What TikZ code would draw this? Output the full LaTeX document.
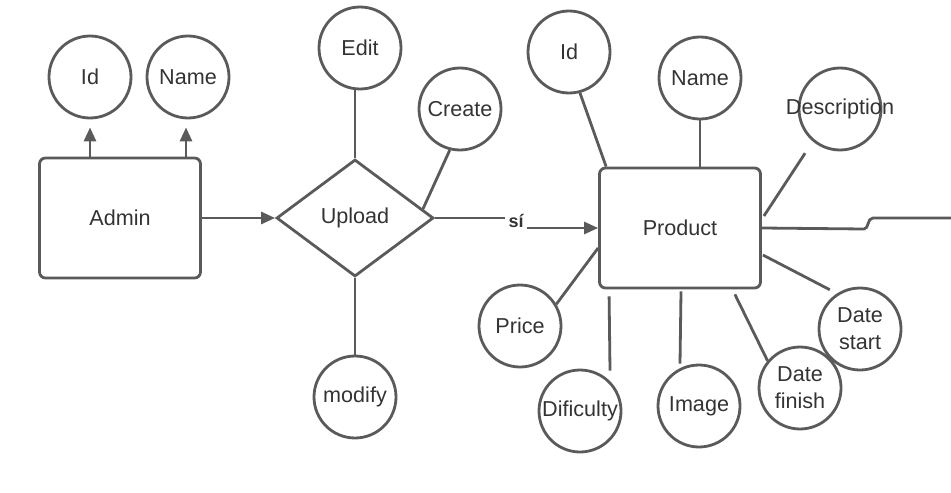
\documentclass[tikz,border=0pt]{standalone}
\usepackage{fontspec}
\setmainfont{Liberation Sans}
\usetikzlibrary{shapes.geometric, arrows.meta, calc}
\usetikzlibrary{positioning}
\definecolor{edge}{HTML}{5A5A5A}
\definecolor{ink}{HTML}{333333}

\begin{document}
\begin{tikzpicture}[x=0.5pt, y=-0.5pt, line width=1.4pt, color=edge,
    every node/.style={text=ink, font=\fontsize{10.8}{13.5}\selectfont},
    attr/.style={circle, draw=edge, minimum size=41pt, inner sep=0pt, align=center},
    entity/.style={rectangle, rounded corners=3pt, draw=edge, minimum width=80.5pt, minimum height=60pt},
    rel/.style={diamond, draw=edge, minimum width=78.5pt, minimum height=58.5pt, inner sep=0pt},
    tip/.style={-{Triangle[length=7pt, width=6pt]}}]
    \useasboundingbox (0,0) rectangle (951,492);
    % admin side
    \node[entity] at (120,218) (admin) {Admin};
    \node[attr] at (90,77) (aid) {Id};
    \node[attr] at (188,77) (aname) {Name};
    \draw[tip, shorten >=4pt] (aid.south |- admin.north) -- (aid.south);
    \draw[tip, shorten >=4pt] ($(aname.south |- admin.north)+(-2,0)$) -- ($(aname.south)+(-2,0)$);
    \node[rel] at (355,218) (upload) {Upload};
    \draw[tip] (admin.east) -- (upload.west);
    \node[attr] at (360,48) (edit) {Edit};
    \node[attr] at (460,109) (create) {Create};
    \node[attr] at (355,397) (modify) {modify};
    \draw (upload.north) -- (upload.north |- edit.south);
    \draw ($(upload.north)!0.85!(upload.east)$) -- (create.-104);
    \draw (upload.south) -- (modify.north);
    % product side
    \node[entity] at (680,228) (product) {Product};
    \node[font=\bfseries\fontsize{9}{11}\selectfont, inner sep=1pt] at (516,221) (si) {sí};
    \draw (upload.east) -- (si.west |- upload.east);
    \draw[tip] (si.east |- product.west) -- (product.west);
    \node[attr] at (569,52) (pid) {Id};
    \node[attr] at (700,78) (pname) {Name};
    \node[attr, label=center:Description] at (840,109) (desc) {};
    \node[attr] at (520,326) (price) {Price};
    \node[attr, label=center:Dificulty] at (580,411) (dific) {};
    \node[attr] at (699,406) (image) {Image};
    \node[attr] at (800,388) (dfinish) {Date\\finish};
    \node[attr] at (860,329) (dstart) {Date\\start};
    \coordinate (out) at (951,218);
    \draw ($(product.north west)+(8,0)$) -- (pid.-75);
    \draw (product.north -| pname) -- (pname.south);
    \draw[shorten >=7pt] ($(product.east)+(2,-12)$) -- (desc.-130);
    \draw (product.east) -- (864,229) .. controls (869,229) and (867,218) .. (873,218) -- (out);
    \draw ($(product.west)+(0,20)$) -- (price.31);
    \draw ($(product.south west)+(11,7)$) -- ($(dific.north)+(30,2)$);
    \draw ($(product.south)+(1,2)$) -- (product.south |- image.north);
    \draw ($(product.south east)+(-27,5)$) -- (dfinish.140);
    \draw[shorten >=4pt] ($(product.east)+(1,27)$) -- (dstart.123);
\end{tikzpicture}
\end{document}
